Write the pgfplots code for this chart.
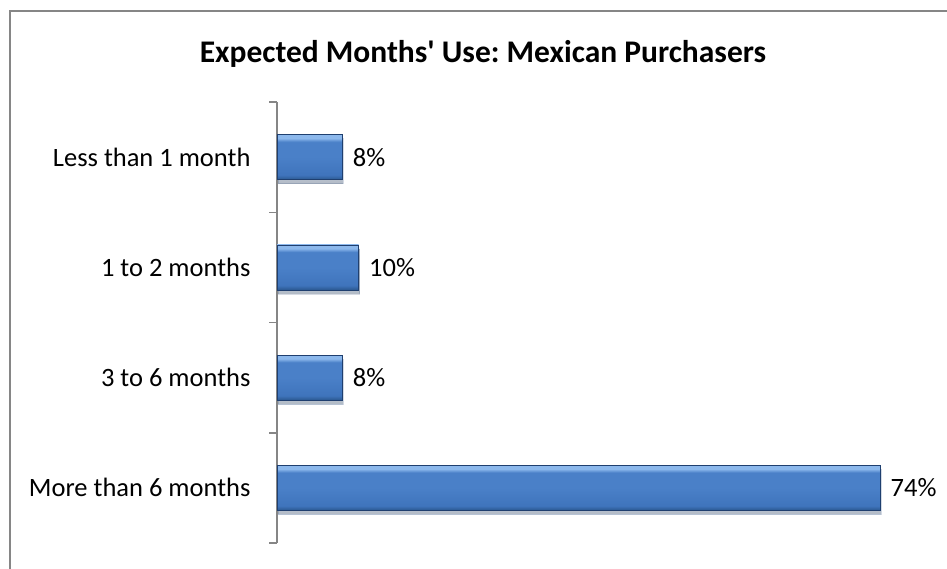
\documentclass[border=0pt]{standalone}
\usepackage{pgfplots}
\pgfplotsset{compat=1.18}
\usepackage{fontspec}
\setmainfont{Carlito}[Ligatures=TeXOff]
\usetikzlibrary{shadows}

\definecolor{framegray}{HTML}{868686}
\definecolor{btop}{HTML}{8CB8EC}
\definecolor{bmid}{HTML}{4A80C8}
\definecolor{bmid2}{HTML}{3F74BC}
\definecolor{bbot}{HTML}{2A578F}
\definecolor{bedge}{HTML}{1F3F6F}
% a path spans 25bp..75bp of a vertical shading
\pgfdeclareverticalshading{barshade}{100bp}{color(0bp)=(bbot); color(25bp)=(bbot); color(30bp)=(bmid2); color(50bp)=(bmid); color(67bp)=(bmid); color(71bp)=(btop); color(75bp)=(btop); color(100bp)=(btop)}

\pgfplotsset{
    bevelbar/.style={draw=bedge, line width=0.6pt, shading=barshade, bar shift=0pt,
        drop shadow={shadow xshift=1pt, shadow yshift=-4pt, opacity=0.18, fill=black}},
}

\begin{document}
\frenchspacing
\begin{tikzpicture}[x=1pt,y=1pt]
\path[use as bounding box] (0,0) rectangle (947,568);
% chart frame (right and bottom edges fall outside the crop)
\draw[framegray, line width=2pt] (10,-20) -- (10,557) -- (960,557);
\node[font=\fontsize{31.5}{34}\selectfont\bfseries] at (483,514) {Expected Months' Use: Mexican Purchasers};

\begin{axis}[
    at={(277pt,25pt)}, anchor=south west,
    scale only axis,
    width=652pt, height=441pt,
    xbar, bar width=45pt,
    xmin=0, xmax=80,
    ymin=-0.5, ymax=3.5,
    y dir=reverse,
    axis x line=none,
    axis y line*=left,
    y axis line style={framegray, line width=1.5pt},
    ytick={0,1,2,3},
    yticklabels={Less than 1 month, 1 to 2 months, 3 to 6 months, More than 6 months},
    major tick length=0pt,
    minor ytick={-0.5,0.5,1.5,2.5,3.5},
    minor tick length=8pt,
    tick align=outside,
    minor tick style={framegray, line width=1.5pt},
    yticklabel style={font=\fontsize{26.5}{30}\selectfont, xshift=-23pt},
    /pgf/number format/assume math mode=true,
    nodes near coords={\pgfmathprintnumber{\pgfplotspointmeta}\%},
    nodes near coords style={font=\fontsize{26.5}{30}\selectfont, anchor=west, xshift=7pt, black},
    clip=false,
]
% one plot per bar so each bar gets its own shading
\addplot[bevelbar] coordinates {(8,0)};
\addplot[bevelbar] coordinates {(10,1)};
\addplot[bevelbar] coordinates {(8,2)};
\addplot[bevelbar] coordinates {(74,3)};
\end{axis}
\end{tikzpicture}
\end{document}
